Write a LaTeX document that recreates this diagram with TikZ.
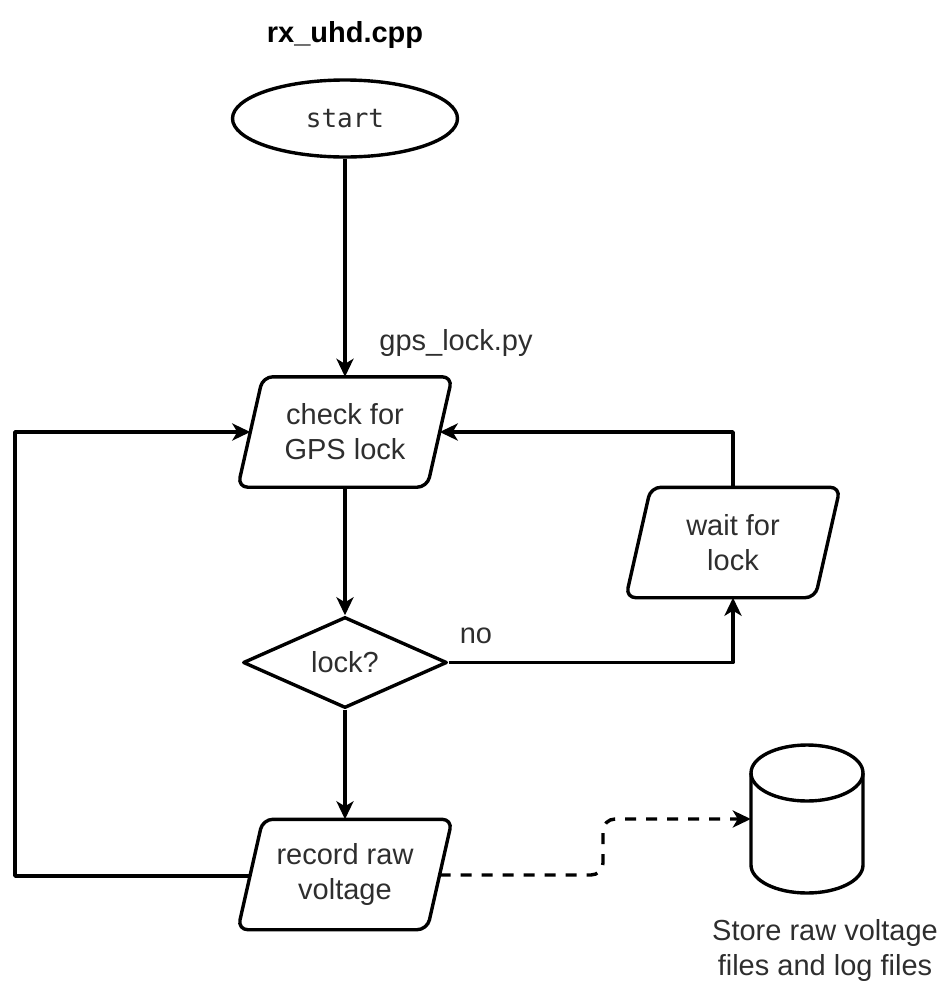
\documentclass[tikz,border=0pt]{standalone}
\usepackage{fontspec}
\setmainfont{Liberation Sans}
\newfontfamily\codefont{DejaVu Sans Mono}
\usetikzlibrary{arrows.meta,shapes.geometric}

\definecolor{ink}{HTML}{2E2E2E}

\tikzset{
  stroke/.style={line width=3.4pt, line join=round},
  flow/.style={stroke, -{Stealth[length=18pt,width=17pt,inset=5pt]}},
  dataflow/.style={flow, dash pattern=on 11pt off 10pt, rounded corners=12pt},
  label/.style={font=\fontsize{29}{35}\selectfont, text=ink, align=center, inner sep=0pt},
  boxtext/.style={label, minimum width=214pt, minimum height=110pt},
  frame/.style={stroke, rounded corners=10pt},
}

% parallelogram outline around a text node, leaning right
\newcommand\paraframe[1]{%
  \draw[frame] (#1.south west) -- ([xshift=-25pt]#1.south east)
    -- (#1.north east) -- ([xshift=25pt]#1.north west) -- cycle;}

\begin{document}
\begin{tikzpicture}[x=1pt,y=-1pt]
  \useasboundingbox (0,0) rectangle (941,983);

  % title
  \node[label, font=\bfseries\fontsize{29}{35}\selectfont, text=black] (title) at (345,35) {rx\_uhd.cpp};

  % start terminal
  \node[ellipse, draw, stroke, minimum width=225pt, minimum height=77pt, inner sep=0pt,
        text=ink, font=\codefont\fontsize{26}{30}\selectfont] (start) at (345,118.5) {start};

  % process steps
  \node[boxtext] (check) at (345,432) {check for\\GPS lock};
  \paraframe{check}
  \node[boxtext] (wait) at (733,542.5) {wait for\\lock};
  \paraframe{wait}
  \node[boxtext] (record) at (345,874.5) {record raw\\voltage};
  \paraframe{record}

  % decision
  \node[diamond, draw, stroke, aspect=2.24, minimum width=204pt, minimum height=91pt,
        inner sep=0pt, label] (lock) at (345,662.5) {lock?};

  % storage cylinder
  \node[minimum width=112pt, minimum height=148pt, inner sep=0pt] (db) at (807,819) {};
  \coordinate (dbtop) at (807,773);
  \coordinate (dbbot) at (807,865);
  \draw[stroke] (751,773) -- (751,865)
        arc[start angle=180, end angle=0, x radius=56, y radius=28]
        -- (863,773);
  \draw[stroke] (dbtop) ellipse[x radius=56, y radius=28];
  \node[label] (dblabel) at (825,950) {Store raw voltage\\files and log files};

  % labels
  \node[label] (gpslabel) at (456,343) {gps\_lock.py};
  \node[label] (nolabel) at (476,636) {no};

  % connectors
  \draw[flow] (start) -- (check);
  \draw[flow] (check) -- (lock);
  \draw[flow] (lock) -- (record);
  \draw[flow] (lock.east) -| (wait.south);
  \draw[flow] (wait.north) |- ([xshift=-12.5pt]check.east);
  \coordinate (loopleft) at (15,432);
  \draw[flow] ([xshift=12.5pt,yshift=-1.5pt]record.west) -| (loopleft)
        -- ([xshift=12.5pt]check.west);
  \coordinate (dbbend) at (603,875);
  \draw[dataflow] ([xshift=-12.5pt,yshift=-0.5pt]record.east) -- (dbbend) |- (db.west);
\end{tikzpicture}
\end{document}
